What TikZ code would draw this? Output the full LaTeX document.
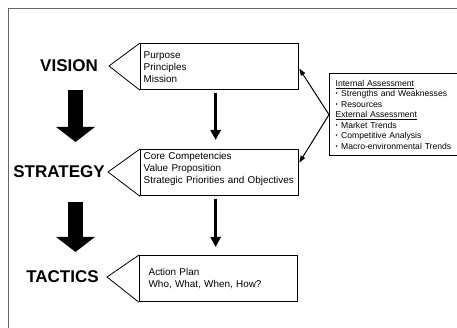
\documentclass[tikz,border=0pt]{standalone}
\usepackage{fontspec}
\setmainfont{Liberation Sans}
\usetikzlibrary{arrows.meta,positioning}

\hyphenpenalty=10000
\hbadness=10000
\newcommand{\asmtbul}{\makebox[5.5pt][l]{\raisebox{0.8pt}{\fontsize{6}{6}\selectfont\textbullet}}}

\begin{document}
\begin{tikzpicture}[x=1pt, y=-1pt, semithick]
\tikzstyle{level}=[font=\fontsize{17}{20}\selectfont\bfseries, inner sep=0pt]
\tikzstyle{box}=[draw, line width=1.3pt, anchor=north west, minimum width=158pt, minimum height=46pt,
  text width=152pt, inner xsep=3pt, align=left, font=\fontsize{9.9}{12}\selectfont]
\tikzstyle{pointer}=[line width=0.8pt, line join=miter]
\tikzstyle{bigarrow}=[line width=15pt, -{Triangle[width=38pt,length=15pt]}]
\tikzstyle{downarrow}=[line width=3.5pt, -{Triangle[width=10pt,length=10pt]}]
\tikzstyle{feed}=[line width=1pt, -{Triangle[width=5pt,length=7pt]}]

\clip (0,0) rectangle (457,328);
\draw[line width=1pt, black!60] (8.5,340) |- (470,8.5);

% the three levels
\node[level] (vision)   at (69,66)   {VISION};
\node[level] (strategy) at (59,172)  {STRATEGY};
\node[level] (tactics)  at (62.5,277) {TACTICS};

\node[box] (visbox) at (140,43) {Purpose\\Principles\\Mission};
\node[box, text depth=33pt, inner ysep=1.5pt] (strbox) at (140,149) {Core Competencies\\Value Proposition\\Strategic Priorities and Objectives};
\node[box, inner xsep=9pt, text width=140pt] (tacbox) at (139,255) {Action Plan\\Who, What, When, How?};

\coordinate (vistip) at (109,66);
\coordinate (strtip) at (108,172);
\coordinate (tactip) at (107,277);
\draw[pointer] (visbox.north west) -- (vistip) -- (visbox.south west);
\draw[pointer] (strbox.north west) -- (strtip) -- (strbox.south west);
\draw[pointer] (tacbox.north west) -- (tactip) -- (tacbox.south west);

% assessment box on the right
\node[draw, line width=1.3pt, anchor=north west, minimum width=140pt, minimum height=82pt,
  text width=128pt, inner xsep=6pt, align=left, font=\fontsize{8.6}{10.5}\selectfont]
  (assess) at (329,73) {\underline{Internal Assessment}\\
  \asmtbul Strengths and Weaknesses\\
  \asmtbul Resources\\
  \underline{External Assessment}\\
  \asmtbul Market Trends\\
  \asmtbul Competitive Analysis\\
  \asmtbul Macro-environmental Trends};

\draw[feed] (assess.west) -- ([yshift=-2pt]visbox.east);
\draw[feed] (assess.west) -- ([yshift=10pt]strbox.east);

\draw[downarrow] ([xshift=-4pt,yshift=-3pt]visbox.south) -- ([xshift=-4pt,yshift=9pt]strbox.north);
\draw[downarrow] ([xshift=-4pt,yshift=-3pt]strbox.south) -- ([xshift=-3pt,yshift=8pt]tacbox.north);

% block arrows between the levels
\coordinate (v1) at (75.5,90);
\coordinate (s1) at (75.5,142);
\coordinate (s2) at (75.5,202);
\coordinate (t1) at (75.5,252);
\draw[bigarrow] (v1) -- (s1);
\draw[bigarrow] (s2) -- (t1);
\end{tikzpicture}
\end{document}
